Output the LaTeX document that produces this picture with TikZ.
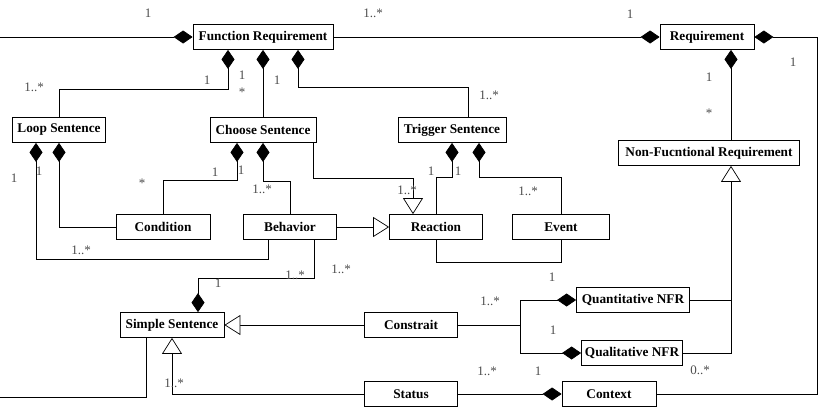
\documentclass[tikz,border=0pt]{standalone}
\usepackage{fontspec}
\setmainfont{Liberation Serif}
\usetikzlibrary{arrows.meta}
\tikzstyle{classbox} = [rectangle, minimum height=25pt, inner xsep=3pt, text centered, draw=black, line width=0.8pt, font=\fontsize{13.3}{15}\selectfont\bfseries]
\tikzstyle{mult} = [inner sep=0pt, text=black!70, font=\fontsize{13}{15}\selectfont]
\tikzstyle{link} = [line width=0.7pt]
\tikzstyle{comp} = [link, -{Diamond[length=19pt,width=13pt]}]
\tikzstyle{inherit} = [link, -{Triangle[open,length=16pt,width=20pt,fill=white]}]

\begin{document}
\begin{tikzpicture}[x=1pt,y=-1pt]
	\useasboundingbox (0,0) rectangle (823,410);
	\node (funreq) [classbox, minimum width=140pt] at (263,37) {Function Requirement};
	\node (req) [classbox, minimum width=94pt] at (707,37) {Requirement};
	\node (loop) [classbox, minimum width=93pt] at (59,130) {Loop Sentence};
	\node (choose) [classbox, minimum width=106pt] at (263,130) {Choose Sentence};
	\node (trigger) [classbox, minimum width=108pt] at (452,130) {Trigger Sentence};
	\node (nfr) [classbox, minimum width=181pt] at (709,153) {Non-Fucntional Requirement};
	\node (condition) [classbox, minimum width=94pt] at (163,227) {Condition};
	\node (behavior) [classbox, minimum width=93pt] at (290,227) {Behavior};
	\node (reaction) [classbox, minimum width=93pt] at (436,227) {Reaction};
	\node (event) [classbox, minimum width=97pt] at (561,227) {Event};
	\node (quant) [classbox, minimum width=113pt] at (633,300) {Quantitative NFR};
	\node (simple) [classbox, minimum width=104pt] at (172,325) {Simple Sentence};
	\node (constrait) [classbox, minimum width=93pt] at (411,325) {Constrait};
	\node (qual) [classbox, minimum width=101pt] at (632,353) {Qualitative NFR};
	\node (status) [classbox, minimum width=93pt] at (411,394) {Status};
	\node (context) [classbox, minimum width=94pt] at (609,394) {Context};
	\coordinate (leftedge) at (-4,397);
	\coordinate (rightedge) at (817,394);
	\coordinate (nfrline) at (731,0);
	% top level
	\draw [comp] ([xshift=-26pt]simple.south) |- (leftedge) |- (funreq.west);
	\draw [comp] (funreq.east) -- (req.west);
	\draw [comp] (context.east) -- (context.east -| rightedge) |- (req.east);
	\draw [comp] (nfr.north -| nfrline) -- (req.south -| nfrline);
	% sentences
	\draw [comp] (loop.north) -- ++(0,-28) -| ([xshift=-35pt]funreq.south);
	\draw [comp] (choose.north) -- (funreq.south);
	\draw [comp] ([xshift=16pt]trigger.north) -- ++(0,-30) -| ([xshift=35pt]funreq.south);
	\draw [comp] (condition.west) -| (loop.south);
	\draw [comp] ([xshift=-22pt]behavior.south) -- ++(0,19) -| ([xshift=-23pt]loop.south);
	\draw [comp] (condition.north) -- ++(0,-34) -| ([xshift=-26pt]choose.south);
	\draw [comp] (behavior.north) -- ++(0,-33) -| (choose.south);
	\draw [inherit] ([xshift=50pt]choose.south) -- ++(0,35) -| ([xshift=-23pt]reaction.north);
	\draw [comp] (reaction.north) -- ++(0,-37) -| (trigger.south);
	\draw [comp] (event.north) -- ++(0,-37) -| ([xshift=27pt]trigger.south);
	\draw [link] (reaction.south) -- ++(0,22) -| (event.south);
	\draw [inherit] (behavior.east) -- (reaction.west);
	% simple sentence
	\draw [comp] ([xshift=24pt]behavior.south) -- ++(0,38) -| ([xshift=26pt]simple.north);
	\draw [inherit] (constrait.west) -- (simple.east);
	\draw [inherit] (status.west) -| (simple.south);
	\draw [comp] (status.east) -- (context.west);
	% NFR
	\draw [comp] (constrait.east) -- ++(62,0) |- (quant.west);
	\draw [comp] (constrait.east) -- ++(62,0) |- (qual.west);
	\draw [inherit] (qual.east) -| (nfr.south -| nfrline);
	\draw [link] (quant.east) -- (quant.east -| nfrline);
	% multiplicities
	\node (m1) [mult] at (148,13) {1};
	\node (m2) [mult] at (373,13) {1..*};
	\node (m3) [mult] at (630,14) {1};
	\node (m4) [mult] at (793,62) {1};
	\node (m5) [mult] at (709,77) {1};
	\node (m6) [mult] at (709,113) {*};
	\node (m7) [mult] at (34,87) {1..*};
	\node (m8) [mult] at (207,80) {1};
	\node (m9) [mult] at (242,75) {1};
	\node (m10) [mult] at (242,92) {*};
	\node (m11) [mult] at (277,80) {1};
	\node (m12) [mult] at (489,95) {1..*};
	\node (m13) [mult] at (14,178) {1};
	\node (m14) [mult] at (39,171) {1};
	\node (m15) [mult] at (142,183) {*};
	\node (m16) [mult] at (215,172) {1};
	\node (m17) [mult] at (241,170) {1};
	\node (m18) [mult] at (262,189) {1..*};
	\node (m19) [mult] at (407,190) {1..*};
	\node (m20) [mult] at (431,171) {1};
	\node (m21) [mult] at (458,171) {1};
	\node (m22) [mult] at (528,191) {1..*};
	\node (m23) [mult] at (81,250) {1..*};
	\node (m24) [mult] at (218,283) {1};
	\node (m25) [mult] at (295,275) {1..*};
	\node (m26) [mult] at (341,269) {1..*};
	\node (m27) [mult] at (552,277) {1};
	\node (m28) [mult] at (490,301) {1..*};
	\node (m29) [mult] at (553,330) {1};
	\node (m30) [mult] at (174,383) {1..*};
	\node (m31) [mult] at (487,371) {1..*};
	\node (m32) [mult] at (538,371) {1};
	\node (m33) [mult] at (700,370) {0..*};
\end{tikzpicture}
\end{document}
